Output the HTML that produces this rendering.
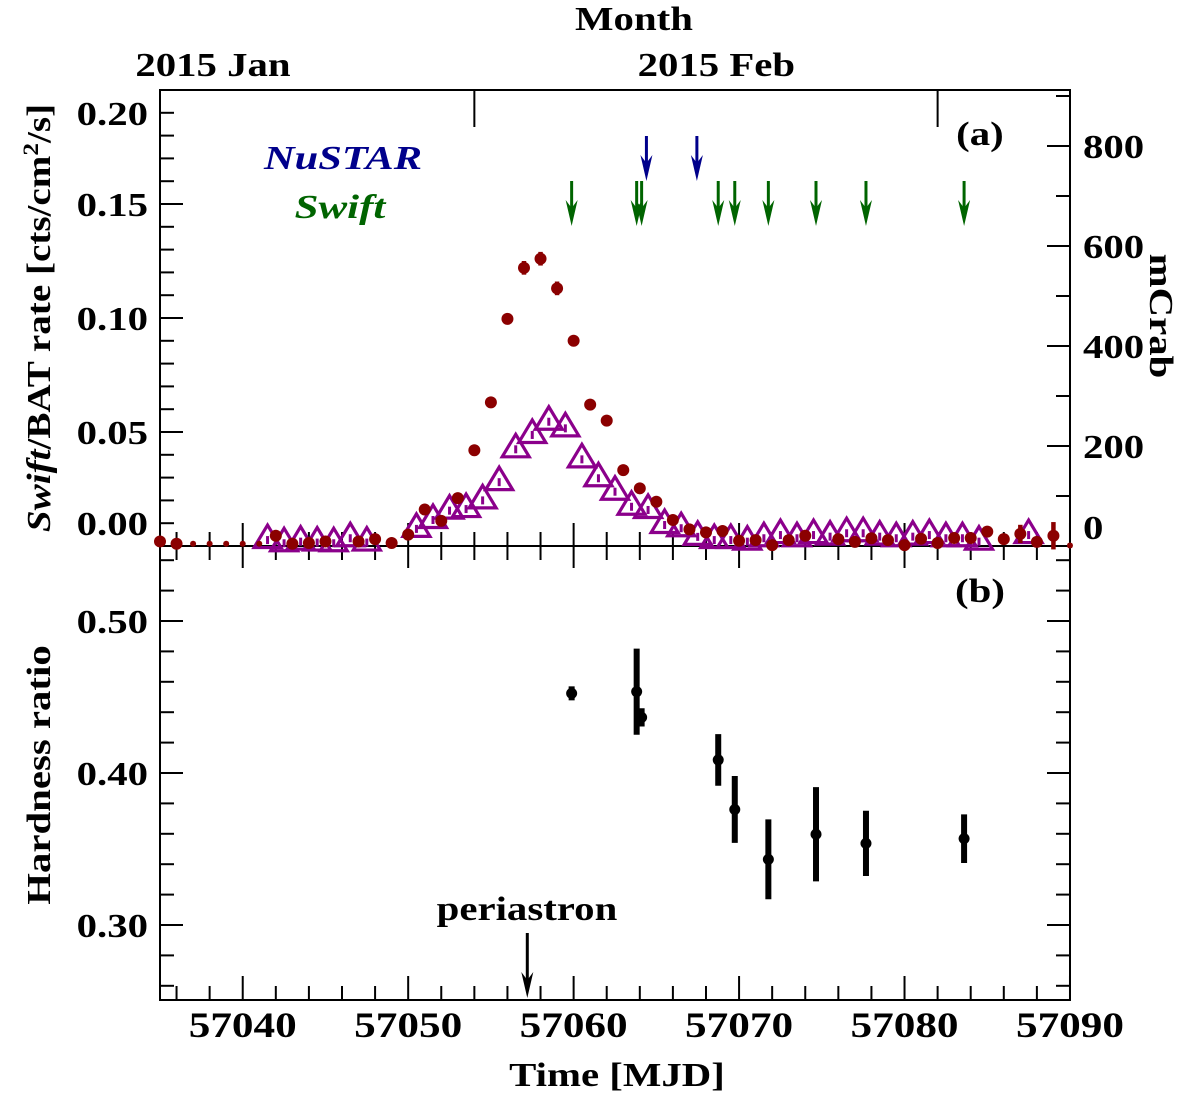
<!DOCTYPE html>
<html><head><meta charset="utf-8"><style>
html,body{margin:0;padding:0;background:#fff;}
svg{display:block;font-family:"Liberation Serif",serif;font-weight:bold;}
</style></head><body>
<svg id="chart" width="1200" height="1097" viewBox="0 0 1200 1097" xmlns="http://www.w3.org/2000/svg">
<g id="static"></g>
</svg>
<script>
// ---- data ----
const batMjd = [57035,57036,57037,57038,57039,57040,57041,57042,57043,57044,57045,57047,57048,57049,57050,57051,57052,57053,57054,57055,57056,57057,57058,57059,57060,57061,57062,57063,57064,57065,57066,57067,57068,57069,57070,57071,57072,57073,57074,57076,57077,57078,57079,57080,57081,57082,57083,57084,57085,57086,57087,57088,57089,57090];
const batRate = [0.002,0.001,0.001,0.001,0.001,0.001,0.001,0.0045,0.001,0.0013,0.002,0.002,0.003,0.0013,0.005,0.016,0.011,0.021,0.042,0.063,0.0996,0.122,0.126,0.113,0.090,0.062,0.055,0.0333,0.0253,0.0194,0.0114,0.0073,0.006,0.0066,0.0023,0.0026,0.0004,0.0026,0.0045,0.003,0.0018,0.0034,0.0026,0.0004,0.0032,0.0013,0.0035,0.0035,0.0063,0.003,0.0053,0.0018,0.0045,0.0002];
const batErr = [0.001,0.001,0.0005,0.0005,0.0005,0.0005,0.0005,0.001,0.001,0.001,0.001,0.001,0.001,0.001,0.001,0.001,0.001,0.001,0.0012,0.0015,0.002,0.003,0.003,0.003,0.002,0.0015,0.0015,0.001,0.001,0.001,0.001,0.001,0.001,0.001,0.001,0.001,0.001,0.001,0.001,0.001,0.001,0.001,0.001,0.001,0.001,0.001,0.001,0.001,0.001,0.001,0.004,0.001,0.006,0.001];
const triMjd = [57041.5,57042.5,57043.5,57044.5,57045.5,57046.5,57047.5,57050.5,57051.5,57052.5,57053.5,57054.5,57055.5,57056.5,57057.5,57058.5,57059.5,57060.5,57061.5,57062.5,57063.5,57064.5,57065.5,57066.5,57067.5,57068.5,57069.5,57070.5,57071.5,57072.5,57073.5,57074.5,57075.5,57076.5,57077.5,57078.5,57079.5,57080.5,57081.5,57082.5,57083.5,57084.5,57087.5];
const triRate = [0.0026,0.0012,0.0019,0.0015,0.0012,0.0034,0.0015,0.0075,0.0114,0.0155,0.0162,0.020,0.028,0.0424,0.0487,0.0545,0.0516,0.038,0.0297,0.0238,0.0172,0.0158,0.0092,0.0078,0.004,0.0026,0.0026,0.0019,0.0034,0.0048,0.0034,0.0048,0.0041,0.0056,0.0056,0.0041,0.0034,0.0041,0.0048,0.0034,0.0034,0.0019,0.0048];
const nustarMjd = [57064.4,57067.45];
const obsMjd = [57059.88,57063.81,57064.11,57068.74,57069.74,57071.77,57074.65,57077.67,57083.6];
const hardness = [0.4524,0.4535,0.4366,0.4086,0.376,0.3432,0.3597,0.3537,0.3568];
const hardErr = [0.003,0.0283,0.006,0.017,0.022,0.0263,0.031,0.0215,0.016];
const periMjd = [57057.2];
const xTickLabels = [57040,57050,57060,57070,57080,57090];
const rateTickLabels = [0.00,0.05,0.10,0.15,0.20];
const crabTickLabels = [0,200,400,600,800];
const hrTickLabels = [0.30,0.40,0.50];
const monthMjd = [57023,57054,57082];
const monthLabels = ["2015 Jan","2015 Feb","2015 Mar"];

// ---- scales ----
const L=160,R=1070,T=90,M=546,B=1000;
const xs = m => L + (m-57035)*16.545;
const ya = r => M - r*2280;
const yc = c => M - c*0.5;
const yb = h => 773 - (h-0.40)*1520;
const NS="http://www.w3.org/2000/svg";
const svg=document.getElementById('chart');
function mk(tag,attrs,parent){const e=document.createElementNS(NS,tag);for(const k in attrs)e.setAttribute(k,attrs[k]);(parent||svg).appendChild(e);return e;}
function ln(x1,y1,x2,y2,col,w,p){return mk('line',{x1,y1,x2,y2,stroke:col||'#000','stroke-width':w||2},p);}
function widen(t,f){try{const w=t.getComputedTextLength();if(w>0){t.setAttribute('textLength',(w*f).toFixed(1));t.setAttribute('lengthAdjust','spacingAndGlyphs');}}catch(e){}}
function tx(s,x,y,size,anchor,p){const t=mk('text',{x,y,'font-size':size,'text-anchor':anchor||'middle'},p);t.textContent=s;widen(t,1.2);return t;}

// frames
const fa=mk('rect',{x:L,y:T,width:R-L,height:M-T,fill:'none',stroke:'#000','stroke-width':2});


const fb=mk('rect',{x:L,y:M,width:R-L,height:B-M,fill:'none',stroke:'#000','stroke-width':2});



// x ticks (2-day)
const xt=mk('g',{});


for(let d=57036; d<=57090; d+=2){
  const x=xs(d), maj=(d%10===0);
  ln(x,B,x,B-(maj?24:14),'#000',2,xt);
  ln(x,M-(maj?23:14),x,M+(maj?22:14),'#000',2,xt);
}
xTickLabels.forEach(v=>{
  const t=tx(String(v),xs(v),1037,36,'middle');
  
  
});
// month ticks on top
monthMjd.forEach((m,i)=>{
  const x=xs(m);
  if(x>L+5 && x<R-5) ln(x,T,x,T+37,'#000',2);
  const lx = i===0 ? 213 : xs(m)+242;
  if(lx<R){
    const t=tx(monthLabels[i],lx,76,34,'middle');
    
    
  }
});
const mt=tx('Month',634,30,34,'middle');



// left rate ticks
for(let k=1;k<=19;k++){
  const y=ya(k*0.01), maj=(k%5===0);
  ln(L,y,L+(maj?23:14),y,'#000',2);
}
rateTickLabels.forEach(v=>{
  const y=Math.max(113,Math.min(523,ya(v)));
  const t=tx(v.toFixed(2),148,y+12,34,'end');
  
  
});
// right mCrab ticks
for(let c=100;c<=900;c+=100){
  const y=yc(c), maj=(c%200===0);
  ln(R,y,R-(maj?23:14),y,'#000',2);
}
crabTickLabels.forEach(v=>{
  const y=Math.min(527,yc(v));
  const t=tx(String(v),1083,y+12,34,'start');
  
  
});
// bottom panel y ticks
for(let k=0;k<15;k++){
  const h=0.26+k*0.02; const y=yb(h);
  if(y<=M+2||y>=B-2) continue;
  const maj=Math.abs((h*100)%10)<0.01||Math.abs((h*100)%10-10)<0.01;
  ln(L,y,L+(maj?23:14),y,'#000',2);
  ln(R,y,R-(maj?23:14),y,'#000',2);
}
hrTickLabels.forEach(v=>{
  const t=tx(v.toFixed(2),148,yb(v)+12,34,'end');
  
  
});

// axis titles
const yt=mk('text',{x:0,y:0,'font-size':34,'text-anchor':'middle',transform:'translate(50,318) rotate(-90)'});


yt.innerHTML='<tspan font-style="italic">Swift</tspan>/BAT rate [cts/cm<tspan dy="-12" font-size="22">2</tspan><tspan dy="12">/s]</tspan>';
widen(yt,1.15);
const ht=tx('Hardness ratio',0,0,34,'middle');
ht.setAttribute('transform','translate(50,775) rotate(-90)');


const ct=tx('mCrab',0,0,34,'middle');
ct.setAttribute('transform','translate(1150,316) rotate(90)');


const xtt=tx('Time [MJD]',617,1086,34,'middle');


const pa=tx('(a)',980,145,34,'middle');


const pb=tx('(b)',980,602,34,'middle');


const nl=tx('NuSTAR',343,169,34,'middle');
nl.setAttribute('fill','#00008b');nl.setAttribute('font-style','italic');


const sl=tx('Swift',340,218,34,'middle');
sl.setAttribute('fill','#006400');sl.setAttribute('font-style','italic');



// arrows
function arrow(x,y1,y2,col,w,name){
  const g=mk('g',{});
  
  
  ln(x,y1,x,y2-14,col,w,g);
  mk('path',{d:`M${x-6},${y2-26} L${x},${y2} L${x+6},${y2-26} L${x},${y2-18} Z`,fill:col},g);
}
nustarMjd.forEach(m=>arrow(xs(m),136,181,'#00008b',3,'nustar-arrow'));
obsMjd.forEach(m=>arrow(xs(m),181,226,'#006400',3,'swift-arrow'));
periMjd.forEach(m=>arrow(xs(m),933,998,'#000',3,'periastron-arrow'));
const pt=tx('periastron',527,920,34,'middle');



// triangles
const tg=mk('g',{});


triMjd.forEach((m,i)=>{
  const x=xs(m), y=ya(triRate[i]);
  const p=mk('path',{d:`M${x},${y-15} L${x+13.5},${y+7.5} L${x-13.5},${y+7.5} Z`,fill:'none',stroke:'#8b008b','stroke-width':3.2,'stroke-linejoin':'miter'},tg);
  
  
  ln(x,y-4,x,y+4,'#8b008b',3,tg);
});
// BAT points
const bg=mk('g',{});


batMjd.forEach((m,i)=>{
  const x=xs(m), y=ya(batRate[i]), e=batErr[i]*2280;
  ln(x,y-e,x,y+e,'#8b0000',4.5,bg);
  const small=(m>=57037&&m<=57041)||m===57090;
  const c=mk('circle',{cx:x,cy:y,r:small?3:6,fill:'#8b0000'},bg);
  
  
});
// hardness points
const hg=mk('g',{});


obsMjd.forEach((m,i)=>{
  const x=xs(m), y=yb(hardness[i]), e=Math.max(hardErr[i]*1520,7);
  ln(x,y-e,x,y+e,'#000',6,hg);
  const c=mk('circle',{cx:x,cy:y,r:5.5,fill:'#000'},hg);
  
  
});
</script>
</body></html>
